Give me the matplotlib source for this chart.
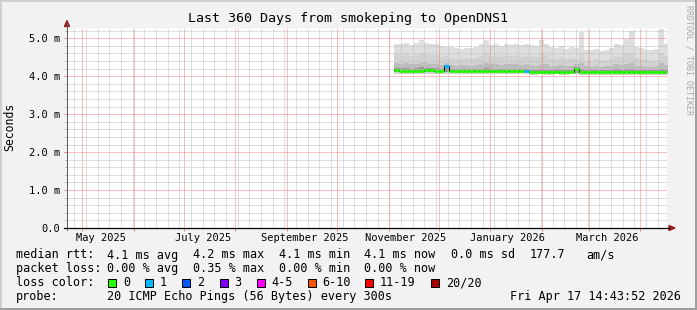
import numpy as np
import pandas as pd
import matplotlib
matplotlib.use('Agg')
import matplotlib.pyplot as plt
import matplotlib.dates as mdates
from matplotlib.patches import Rectangle, Polygon
from matplotlib.lines import Line2D
from matplotlib.ticker import FuncFormatter

W, H = 697, 310
MONO = 'DejaVu Sans Mono'

end_time = pd.Timestamp('2026-04-17 14:43:52')
start_time = end_time - pd.Timedelta(days=360)

# smoke buckets, one every 3 days starting here (values in ms)
first_bucket = '2025-11-05'
smoke_max = [4.86, 4.84, 4.88, 4.82, 4.87, 4.95, 4.88, 4.84, 4.86, 4.80,
             4.77, 4.78, 4.74, 4.72, 4.75, 4.73, 4.78, 4.84, 4.95, 4.83,
             4.85, 4.80, 4.84, 4.82, 4.86, 4.81, 4.84, 4.82, 4.80, 4.95,
             4.85, 4.78, 4.74, 4.80, 4.72, 4.76, 4.73, 5.17, 4.70, 4.68,
             4.72, 4.66, 4.70, 4.74, 4.85, 4.82, 4.97, 5.20, 4.78, 4.75,
             4.70, 4.68, 4.72, 5.24, 4.85]
smoke_p75 = [4.58, 4.55, 4.60, 4.52, 4.57, 4.62, 4.58, 4.55, 4.57, 4.50,
             4.52, 4.48, 4.46, 4.45, 4.47, 4.45, 4.49, 4.53, 4.60, 4.54,
             4.55, 4.50, 4.54, 4.52, 4.56, 4.50, 4.53, 4.52, 4.50, 4.60,
             4.55, 4.48, 4.45, 4.50, 4.44, 4.47, 4.45, 4.62, 4.42, 4.40,
             4.44, 4.40, 4.42, 4.45, 4.53, 4.50, 4.58, 4.60, 4.47, 4.45,
             4.42, 4.40, 4.43, 4.62, 4.52]
smoke_p60 = [4.34, 4.32, 4.35, 4.31, 4.33, 4.36, 4.34, 4.32, 4.33, 4.30,
             4.36, 4.29, 4.28, 4.29, 4.30, 4.28, 4.30, 4.32, 4.35, 4.31,
             4.32, 4.30, 4.32, 4.31, 4.33, 4.30, 4.31, 4.29, 4.28, 4.33,
             4.31, 4.28, 4.27, 4.29, 4.26, 4.28, 4.32, 4.34, 4.26, 4.25,
             4.27, 4.25, 4.26, 4.27, 4.31, 4.29, 4.33, 4.34, 4.27, 4.27,
             4.25, 4.25, 4.26, 4.35, 4.30]
smoke_p55 = [4.22, 4.21, 4.22, 4.20, 4.21, 4.23, 4.22, 4.21, 4.21, 4.20,
             4.30, 4.19, 4.19, 4.20, 4.19, 4.19, 4.20, 4.20, 4.22, 4.19,
             4.20, 4.19, 4.20, 4.20, 4.20, 4.19, 4.19, 4.17, 4.17, 4.19,
             4.17, 4.17, 4.18, 4.17, 4.16, 4.17, 4.24, 4.20, 4.16, 4.16,
             4.17, 4.16, 4.16, 4.17, 4.18, 4.17, 4.19, 4.20, 4.16, 4.16,
             4.16, 4.16, 4.16, 4.20, 4.17]
median_rtt = [4.16, 4.15, 4.15, 4.14, 4.15, 4.15, 4.16, 4.16, 4.15, 4.15,
              4.26, 4.13, 4.13, 4.14, 4.13, 4.13, 4.13, 4.14, 4.14, 4.13,
              4.13, 4.13, 4.14, 4.14, 4.13, 4.13, 4.13, 4.11, 4.11, 4.12,
              4.11, 4.11, 4.12, 4.11, 4.11, 4.12, 4.20, 4.11, 4.11, 4.11,
              4.11, 4.11, 4.11, 4.11, 4.11, 4.11, 4.10, 4.11, 4.10, 4.11,
              4.11, 4.11, 4.11, 4.11, 4.11]
smoke_low = [4.12, 4.11, 4.11, 4.10, 4.11, 4.11, 4.12, 4.12, 4.11, 4.11,
             4.12, 4.10, 4.10, 4.11, 4.10, 4.10, 4.10, 4.11, 4.11, 4.10,
             4.10, 4.10, 4.11, 4.11, 4.10, 4.10, 4.10, 4.08, 4.08, 4.09,
             4.08, 4.08, 4.09, 4.08, 4.08, 4.09, 4.09, 4.08, 4.08, 4.08,
             4.08, 4.08, 4.08, 4.08, 4.08, 4.08, 4.08, 4.07, 4.08, 4.07,
             4.08, 4.08, 4.08, 4.08, 4.08]
smoke_min = [4.07, 4.06, 4.06, 4.05, 4.06, 4.06, 4.07, 4.07, 4.06, 4.06,
             4.07, 4.05, 4.05, 4.06, 4.05, 4.05, 4.05, 4.06, 4.06, 4.05,
             4.05, 4.05, 4.06, 4.06, 4.05, 4.05, 4.05, 4.04, 4.04, 4.05,
             4.04, 4.04, 4.05, 4.04, 4.04, 4.05, 4.05, 4.04, 4.04, 4.04,
             4.04, 4.04, 4.04, 4.04, 4.04, 4.04, 4.04, 4.03, 4.04, 4.03,
             4.04, 4.04, 4.04, 4.04, 4.04]
loss_count = [0] * 10 + [1] + [0] * 15 + [1] + [0] * 28

loss_labels = ['0', '1', '2', '3', '4-5', '6-10', '11-19', '20/20']
loss_colors = ['#26ff00', '#00b8ff', '#0059ff', '#7e00ff', '#ff00ff', '#ff5500', '#ff0000', '#a00000']
loss_upper = [0, 1, 2, 3, 5, 10, 19, 20]

month_labels = ['May 2025', 'July 2025', 'September 2025', 'November 2025', 'January 2026', 'March 2026']
month_label_dates = ['2025-05-13', '2025-07-13', '2025-09-12', '2025-11-12', '2026-01-12', '2026-03-13']

rtt_stats = ['4.1 ms avg', '4.2 ms max', '4.1 ms min', '4.1 ms now', '0.0 ms sd', '177.7', 'am/s']
loss_stats = ['0.00 % avg', '0.35 % max', '0.00 % min', '0.00 % now']
probe_text = '20 ICMP Echo Pings (56 Bytes) every 300s'
stamp_text = 'Fri Apr 17 14:43:52 2026'
title = 'Last 360 Days from smokeping to OpenDNS1'


def fx(x):
    return x / W


def fy(y):
    return 1 - y / H


fig = plt.figure(figsize=(W / 100, H / 100), dpi=100, facecolor='#f2f2f2')
ax = fig.add_axes([fx(67), fy(228), 600 / W, 200 / H])
ax.set_facecolor('white')
for s in ax.spines.values():
    s.set_visible(False)

n = len(median_rtt)
edges = mdates.date2num(pd.date_range(first_bucket, periods=n + 1, freq='3D').to_pydatetime())
starts = edges[:-1]
ends = edges[1:]


def ext(v):
    return np.append(v, v[-1])


ax.fill_between(edges, ext(smoke_min), ext(smoke_max), step='post', color='#dedede', lw=0, zorder=1)
ax.fill_between(edges, ext(smoke_min), ext(smoke_p75), step='post', color='#d2d2d2', lw=0, zorder=1)
ax.fill_between(edges, ext(smoke_low), ext(smoke_p60), step='post', color='#bcbcbc', lw=0, zorder=1)
ax.fill_between(edges, ext(smoke_low), ext(smoke_p55), step='post', color='#969696', lw=0, zorder=1)

x0 = mdates.date2num(start_time.to_pydatetime())
x1 = mdates.date2num(end_time.to_pydatetime())
ax.set_xlim(x0, x1)
ax.set_ylim(0, 5.27)

# grid, 1px dots snapped to the pixel grid
dot = (0, (1.0, 1.0))
gray, pink = '#c0c0c0', '#f08080'
gkw = dict(lw=0.72, ls=dot, snap=True, antialiased=True)
for d in pd.date_range(start_time.normalize(), end_time, freq='W-SUN'):
    ax.axvline(mdates.date2num(d.to_pydatetime()), color=gray, zorder=1.5, **gkw)
month_starts = [mdates.date2num(d.to_pydatetime()) for d in pd.date_range(start_time, end_time, freq='MS')]
for m in month_starts:
    ax.axvline(m, color=pink, zorder=1.6, **gkw)
for v in np.arange(0.2, 5.27, 0.2):
    if abs(v - round(v)) > 1e-6:
        ax.axhline(v, color=gray, zorder=1.5, **gkw)
for v in range(1, 6):
    ax.axhline(v, color=pink, zorder=1.6, **gkw)

# median line coloured by loss
med = np.array(median_rtt)
ax.step(edges, ext(med), where='post', color='black', lw=0.8, zorder=3)
loss = np.array(loss_count)
lower = -1
for up, col in zip(loss_upper, loss_colors):
    mask = (loss > lower) & (loss <= up)
    if mask.any():
        ax.hlines(med[mask], starts[mask], ends[mask], colors=col, lw=2.0, zorder=4)
    lower = up

# ticks
ax.set_yticks(range(0, 6))
ax.set_yticks(np.arange(0, 5.21, 0.2), minor=True)
ax.yaxis.set_major_formatter(FuncFormatter(lambda v, p: '0.0' if v == 0 else f'{v:.1f} m'))
ax.tick_params(axis='y', which='major', length=2.2, width=0.72, color=pink, pad=2.9,
               labelsize=7.5, labelfontfamily=MONO)
ax.tick_params(axis='y', which='minor', length=1.5, width=0.72, color='#b0b0b0')
ax.set_xticks([mdates.date2num(pd.Timestamp(d).to_pydatetime()) for d in month_label_dates])
ax.set_xticklabels(month_labels, fontsize=7.5, family=MONO)
ax.set_xticks(month_starts, minor=True)
ax.tick_params(axis='x', which='major', length=0, pad=3.5)
ax.tick_params(axis='x', which='minor', length=2.2, width=0.72, color=pink)

# axes lines and arrows
arrow = '#9a1c1c'
fig.add_artist(Line2D([fx(67), fx(67)], [fy(230), fy(23)], color='#606060', lw=0.72))
fig.add_artist(Line2D([fx(64), fx(669)], [fy(228), fy(228)], color='black', lw=0.9))
fig.add_artist(Polygon([[fx(64.5), fy(26.5)], [fx(69.5), fy(26.5)], [fx(67), fy(20.5)]], color=arrow))
fig.add_artist(Polygon([[fx(669), fy(225.5)], [fx(669), fy(230.5)], [fx(675), fy(228)]], color=arrow))

# frame
fig.add_artist(Rectangle((0, 0), fx(2), 1, color='#cfcfcf', lw=0))
fig.add_artist(Rectangle((0, fy(2)), 1, 2 / H, color='#cfcfcf', lw=0))
fig.add_artist(Rectangle((fx(695), 0), fx(2), 1, color='#9e9e9e', lw=0))
fig.add_artist(Rectangle((0, 0), 1, 2 / H, color='#9e9e9e', lw=0))

# texts
fig.text(0.5, fy(22), title, ha='center', va='baseline', family=MONO, fontsize=9.6)
fig.text(fx(10), fy(127), 'Seconds', rotation=90, ha='center', va='center', family=MONO, fontsize=8.3)
fig.text(fx(689), fy(5), 'RRDTOOL / TOBI OETIKER', rotation=-90, ha='center', va='top',
         family=MONO, fontsize=6, color='#a8a8a8')

fs = 8.5
rows = [258.5, 272.3, 286.1, 299.9]
fig.text(fx(16), fy(rows[0]), 'median rtt:', family=MONO, fontsize=fs, va='baseline')
for s, x in zip(rtt_stats, [107, 193, 279, 364, 451, 530, 586]):
    fig.text(fx(x), fy(rows[0]), s, family=MONO, fontsize=fs, va='baseline')
fig.text(fx(16), fy(rows[1]), 'packet loss:', family=MONO, fontsize=fs, va='baseline')
for s, x in zip(loss_stats, [107, 193, 279, 364]):
    fig.text(fx(x), fy(rows[1]), s, family=MONO, fontsize=fs, va='baseline')
fig.text(fx(16), fy(rows[2]), 'loss color:', family=MONO, fontsize=fs, va='baseline')
for lab, col, x in zip(loss_labels, loss_colors, [108, 145, 182, 219.5, 256.5, 307.5, 365, 431]):
    fig.add_artist(Rectangle((fx(x), fy(286.5)), 8 / W, 8 / H, facecolor=col, edgecolor='black', lw=0.72))
    fig.text(fx(x + 15), fy(rows[2]), lab, family=MONO, fontsize=fs, va='baseline')
fig.text(fx(16), fy(rows[3]), 'probe:', family=MONO, fontsize=fs, va='baseline')
fig.text(fx(107), fy(rows[3]), probe_text, family=MONO, fontsize=fs, va='baseline')
fig.text(fx(681), fy(rows[3]), stamp_text, family=MONO, fontsize=fs, va='baseline', ha='right')

fig.savefig('out.png', dpi=100, facecolor=fig.get_facecolor())
